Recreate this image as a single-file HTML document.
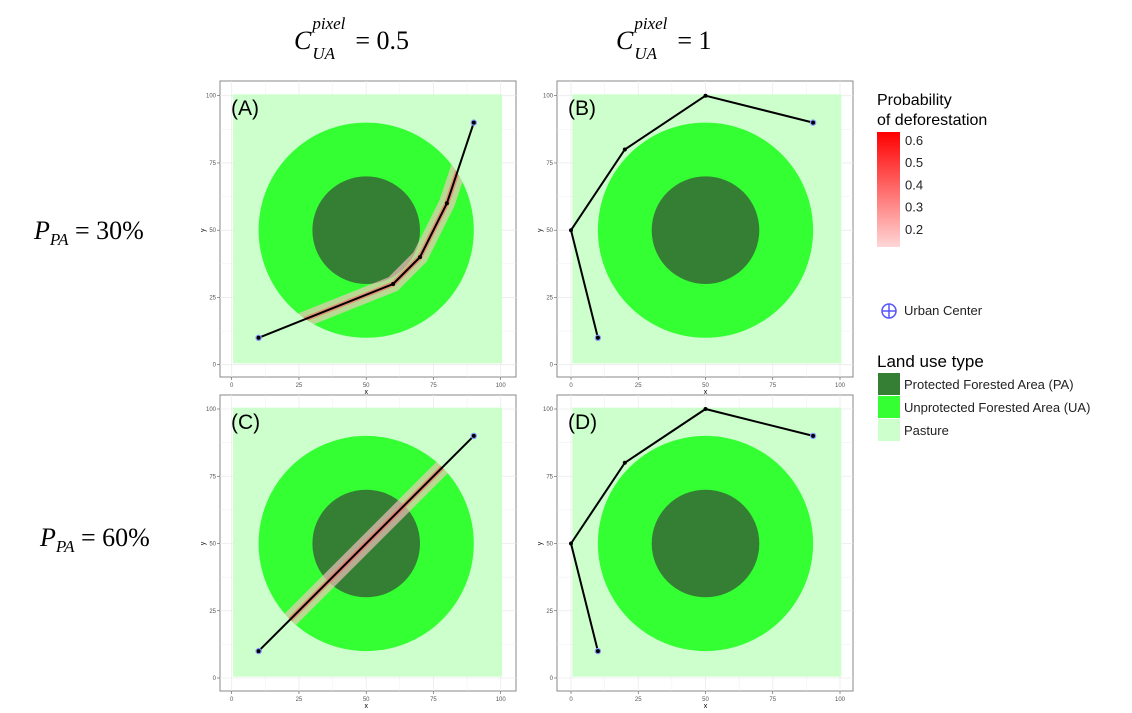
<!DOCTYPE html>
<html><head><meta charset="utf-8"><style>
html,body{margin:0;padding:0;background:#fff;}
body{width:1132px;height:713px;overflow:hidden;position:relative;font-family:"Liberation Sans",sans-serif;}
.m{position:absolute;font-family:"Liberation Serif",serif;font-style:italic;font-size:26px;color:#000;white-space:nowrap;}
.m .n{font-style:normal;}
</style></head><body>
<div class="m" style="left:294px;top:26px;">C<span style="position:relative;"><sup style="font-size:17px;position:absolute;left:1px;top:-12px;">pixel</sup><sub style="font-size:17px;position:absolute;left:1px;top:18px;">UA</sub></span><span class="n" style="margin-left:44px;">= 0.5</span></div>
<div class="m" style="left:616px;top:26px;">C<span style="position:relative;"><sup style="font-size:17px;position:absolute;left:1px;top:-12px;">pixel</sup><sub style="font-size:17px;position:absolute;left:1px;top:18px;">UA</sub></span><span class="n" style="margin-left:44px;">= 1</span></div>
<div class="m" style="left:34px;top:216px;">P<sub style="font-size:17px;">PA</sub><span class="n"> = 30%</span></div>
<div class="m" style="left:40px;top:523px;">P<sub style="font-size:17px;">PA</sub><span class="n"> = 60%</span></div>
<svg id="s" width="1132" height="713" style="position:absolute;left:0;top:0;" xmlns="http://www.w3.org/2000/svg">
<defs>
<linearGradient id="grad" x1="0" y1="1" x2="0" y2="0"><stop offset="0" stop-color="#ffd6d6"/><stop offset="1" stop-color="#ff0000"/></linearGradient>
</defs>
</svg>
<script>
const ticks=[0,25,50,75,100];
const tickLabels=["0","25","50","75","100"];
const pathAx=[10,60,70,80,90], pathAy=[10,30,40,60,90];
const pathBx=[10,0,20,50,90], pathBy=[10,50,80,100,90];
const pathCx=[10,90], pathCy=[10,90];
const pathDx=[10,0,20,50,90], pathDy=[10,50,80,100,90];
const outerR=40, innerR=20, centerX=50, centerY=50;
const legendVals=[0.6,0.5,0.4,0.3,0.2];
const panels=[
 {id:'A',ox:231.7,oy:364.7,fx:220,fy:81,px:pathAx,py:pathAy,halo:true},
 {id:'B',ox:571,oy:364.7,fx:557,fy:81,px:pathBx,py:pathBy,halo:false},
 {id:'C',ox:231.7,oy:678,fx:220,fy:395,px:pathCx,py:pathCy,halo:true},
 {id:'D',ox:571,oy:678,fx:557,fy:395,px:pathDx,py:pathDy,halo:false}];
const S=2.69, NS='http://www.w3.org/2000/svg', svg=document.getElementById('s');
function el(t,a,p){const e=document.createElementNS(NS,t);for(const k in a)e.setAttribute(k,a[k]);(p||svg).appendChild(e);return e;}
panels.forEach(P=>{
 const g=el('g',{});
 
 
 const X=v=>P.ox+v*S, Y=v=>P.oy-v*S;
 const fr=el('rect',{x:P.fx,y:P.fy,width:296,height:296,fill:'#fff',stroke:'#888','stroke-width':1},g);
 
 
 for(let v=-12.5;v<=112.5;v+=12.5){if(v<-4||v>104)continue;
  el('line',{x1:X(v),x2:X(v),y1:P.fy,y2:P.fy+296,stroke:'#ebebeb','stroke-width':v%25==0?0.8:0.4},g);
  el('line',{x1:P.fx,x2:P.fx+296,y1:Y(v),y2:Y(v),stroke:'#ebebeb','stroke-width':v%25==0?0.8:0.4},g);}
 const pa=el('rect',{x:X(0.5),y:Y(100.5),width:100*S,height:100*S,fill:'#ccffcc'},g);
 
 
 const ua=el('circle',{cx:X(centerX),cy:Y(centerY),r:outerR*S,fill:'#33ff33'},g);
 
 
 const pr=el('circle',{cx:X(centerX),cy:Y(centerY),r:innerR*S,fill:'#357f35'},g);
 
 
 const pts=P.px.map((x,i)=>X(x)+','+Y(P.py[i])).join(' ');
 if(P.halo){
  const cp=el('clipPath',{id:'c'+P.id},g);el('circle',{cx:X(centerX),cy:Y(centerY),r:outerR*S},cp);
  const h=el('polyline',{points:pts,fill:'none',stroke:'#ffc4c4','stroke-opacity':0.65,'stroke-width':16,'clip-path':'url(#c'+P.id+')'},g);
  
  
  el('polyline',{points:pts,fill:'none',stroke:'#ff6060','stroke-width':5,'stroke-opacity':0.6,'clip-path':'url(#c'+P.id+')'},g);
 }
 const ln=el('polyline',{points:pts,fill:'none',stroke:'#000','stroke-width':2},g);
 
 
 P.px.forEach((x,i)=>{
  const end=(i==0||i==P.px.length-1);
  if(end){const u=el('circle',{cx:X(x),cy:Y(P.py[i]),r:3.2,fill:'#8899ff'},g);
   
   }
  el('circle',{cx:X(x),cy:Y(P.py[i]),r:2,fill:'#000'},g);
 });
 ticks.forEach((t,i)=>{
  el('line',{x1:X(t),x2:X(t),y1:P.fy+296,y2:P.fy+299,stroke:'#555','stroke-width':0.6},g);
  el('line',{x1:P.fx-3,x2:P.fx,y1:Y(t),y2:Y(t),stroke:'#555','stroke-width':0.6},g);
  const tx=el('text',{x:X(t),y:P.fy+306,'font-size':6,fill:'#555','text-anchor':'middle'},g);tx.textContent=tickLabels[i];
  
  
  const ty=el('text',{x:P.fx-4,y:Y(t)+2,'font-size':6,fill:'#555','text-anchor':'end'},g);ty.textContent=tickLabels[i];
  
  
 });
 const xt=el('text',{x:X(50),y:P.fy+313,'font-size':7,fill:'#000','text-anchor':'middle'},g);xt.textContent='x';
 
 
 const yt=el('text',{x:P.fx-15,y:Y(50),'font-size':7,fill:'#000','text-anchor':'middle',transform:'rotate(-90 '+(P.fx-15)+' '+Y(50)+')'},g);yt.textContent='y';
 
 
 const lb=el('text',{x:P.fx+11,y:P.fy+34,'font-size':21,fill:'#000'},g);lb.textContent='('+P.id+')';
 
 
});
const lg=el('g',{});


let t=el('text',{x:877,y:105,'font-size':16,fill:'#000'},lg);t.textContent='Probability';
t=el('text',{x:877,y:125,'font-size':16,fill:'#000'},lg);t.textContent='of deforestation';
const cb=el('rect',{x:877,y:132,width:23,height:115,fill:'url(#grad)'},lg);


const cy=v=>140-(v-0.6)/0.1*22.2;
legendVals.forEach(v=>{const tt=el('text',{x:905,y:cy(v)+5,'font-size':13,fill:'#222'},lg);tt.textContent=v.toFixed(1);
 
 });
el('circle',{cx:889,cy:311,r:7,fill:'none',stroke:'#5555ff','stroke-width':1.5},lg);
el('line',{x1:882,x2:896,y1:311,y2:311,stroke:'#5555ff','stroke-width':1.5},lg);
el('line',{x1:889,x2:889,y1:304,y2:318,stroke:'#5555ff','stroke-width':1.5},lg);
t=el('text',{x:904,y:315,'font-size':13,fill:'#222'},lg);t.textContent='Urban Center';


t=el('text',{x:877,y:367,'font-size':17,fill:'#000'},lg);t.textContent='Land use type';
const lu=[['#357f35','Protected Forested Area (PA)'],['#33ff33','Unprotected Forested Area (UA)'],['#ccffcc','Pasture']];
lu.forEach((d,i)=>{el('rect',{x:878,y:373+i*23,width:22,height:22,fill:d[0]},lg);
 const tt=el('text',{x:904,y:389+i*23,'font-size':13,fill:'#222'},lg);tt.textContent=d[1];
 
 });
</script>
</body></html>
